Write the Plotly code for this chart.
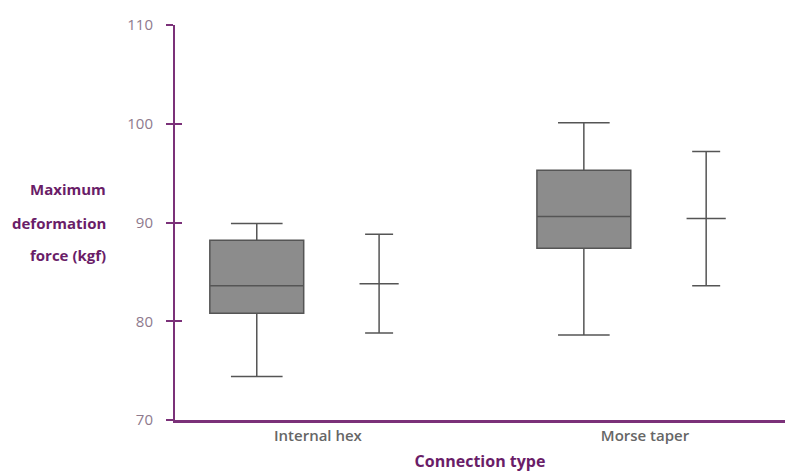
import plotly.graph_objects as go

# connection types
categories = ["Internal hex", "Morse taper"]

# box summary (kgf)
lower_whisker = [74.4, 78.6]
q1 = [80.8, 87.4]
median = [83.6, 90.6]
q3 = [88.2, 95.3]
upper_whisker = [89.9, 100.1]

# mean +/- SD (kgf)
means = [83.8, 90.4]
sd = [5.0, 6.8]

PURPLE = "#7b3179"
TITLE_PURPLE = "#6a1d68"
GREY_LINE = "#555555"
FONT = "Open Sans"

pos = list(range(len(categories)))
offset = 0.187

fig = go.Figure()

fig.add_trace(go.Box(
    x=[p - offset for p in pos],
    q1=q1, median=median, q3=q3,
    lowerfence=lower_whisker, upperfence=upper_whisker,
    width=0.287, whiskerwidth=0.55,
    fillcolor="#8c8c8c",
    line=dict(color=GREY_LINE, width=1.5),
    boxpoints=False,
    showlegend=False,
    hoverinfo="skip",
))

fig.add_trace(go.Scatter(
    x=[p + offset for p in pos],
    y=means,
    mode="markers",
    marker=dict(symbol="line-ew-open", size=28, color=GREY_LINE,
                line=dict(color=GREY_LINE, width=1.5)),
    error_y=dict(type="data", array=sd, visible=True,
                 color=GREY_LINE, thickness=1.5, width=14),
    showlegend=False,
    yaxis="y2",
))

fig.update_layout(
    width=785, height=472,
    margin=dict(l=175, r=0, t=25, b=52),
    paper_bgcolor="white", plot_bgcolor="white",
    font=dict(family=FONT),
    xaxis=dict(
        range=[-0.437, 1.428],
        tickvals=pos, ticktext=categories,
        showgrid=False, zeroline=False,
        showline=True, linecolor=PURPLE, linewidth=3,
        ticks="",
        tickfont=dict(size=15, color="#666666", weight=600),
        title=dict(text="<b>Connection type</b>", standoff=15,
                   font=dict(size=16, color=TITLE_PURPLE)),
    ),
    yaxis=dict(
        range=[70, 110], dtick=10,
        showgrid=False, zeroline=False,
        showline=True, linecolor=PURPLE, linewidth=2,
        ticks="outside", ticklen=7, tickwidth=2, tickcolor=PURPLE,
        ticklabelstandoff=10,
        tickfont=dict(size=15, color="#8e7a8d"),
    ),
    yaxis2=dict(
        range=[70, 110], dtick=10, overlaying="y", side="left",
        showgrid=False, zeroline=False, showline=False,
        ticks="inside", ticklen=7, tickwidth=2, tickcolor=PURPLE,
        showticklabels=False,
    ),
)

for txt, yp in [("Maximum", 0.585), ("deformation", 0.499), ("force (kgf)", 0.418)]:
    fig.add_annotation(
        text="<b>" + txt + "</b>", xref="paper", yref="paper",
        x=-0.11, y=yp, xanchor="right", yanchor="middle",
        showarrow=False, font=dict(size=15, color=TITLE_PURPLE),
    )

# drop the default page margin/scrollbars so the figure fills the window
fig.write_html(
    "out.html",
    config={"displayModeBar": False},
    post_script=("document.documentElement.style.overflow='hidden';"
                 "document.body.style.overflow='hidden';"
                 "document.body.style.margin='0';"),
)
